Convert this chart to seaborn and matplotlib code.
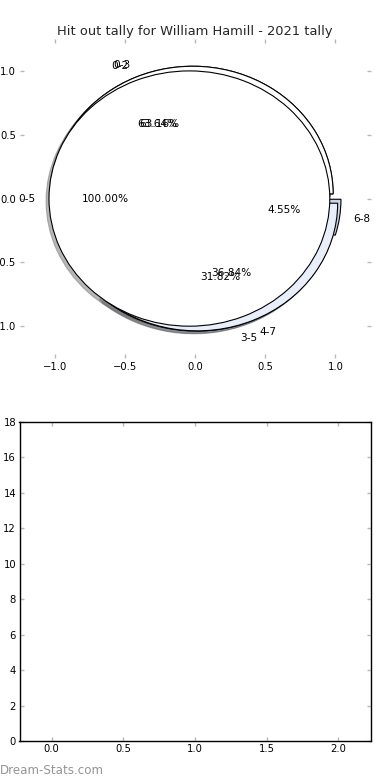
import matplotlib
matplotlib.use("Agg")
import matplotlib.pyplot as plt
import matplotlib.patches as mpatches
import seaborn as sns

# ---- data ----
title = "Hit out tally for William Hamill - 2021 tally"
pie_a_labels = ["0-2", "3-5", "6-8"]
pie_a_values = [14, 7, 1]
pie_b_labels = ["0-3", "4-7"]
pie_b_values = [12, 7]
pie_c_labels = ["0-5"]
pie_c_values = [19]
wedge_colors = ["#ffffff", "#e8eefa", "#cbd5ea"]
pie_ticks = [-1.0, -0.5, 0.0, 0.5, 1.0]
bar_xticks = [0.0, 0.5, 1.0, 1.5, 2.0]
bar_yticks = [0, 2, 4, 6, 8, 10, 12, 14, 16, 18]

sns.set_theme(style="white")
plt.rcParams["font.family"] = ["DejaVu Sans"]

fig, (ax1, ax2) = plt.subplots(2, 1, figsize=(3.9, 7.8), dpi=100)
plt.subplots_adjust(left=0.05, right=0.95, top=0.95, bottom=0.05, hspace=0.2)

wprops = dict(edgecolor="black", linewidth=0.8)
shadow = {"ox": -0.015, "oy": -0.015, "shade": 0.55}
for labels, values in [(pie_a_labels, pie_a_values),
                       (pie_b_labels, pie_b_values),
                       (pie_c_labels, pie_c_values)]:
    ax1.pie(values, labels=labels, autopct="%1.2f%%",
            explode=[0.04] * len(values), shadow=shadow,
            colors=wedge_colors[:len(values)], wedgeprops=wprops,
            textprops={"fontsize": 7.6, "color": "black"})

for p in ax1.patches:
    if isinstance(p, mpatches.Shadow):
        p.set_zorder(0.5)

ax1.set_aspect("auto")
ax1.set_frame_on(False)
ax1.set_xlim(-1.25, 1.25)
ax1.set_ylim(-1.25, 1.25)
ax1.set_xticks(pie_ticks)
ax1.set_yticks(pie_ticks)
ax1.set_title(title, fontsize=9.4, pad=3)

ax2.set_xlim(-0.225, 2.225)
ax2.set_ylim(0, 18)
ax2.set_xticks(bar_xticks)
ax2.set_yticks(bar_yticks)
for s in ax2.spines.values():
    s.set_visible(True)
    s.set_color("black")
    s.set_linewidth(1.0)

for ax in (ax1, ax2):
    ax.tick_params(direction="in", length=3, width=1, color="#b8b8b8",
                   labelcolor="black", labelsize=7.2, pad=2.5,
                   top=True, right=True, bottom=True, left=True)

fig.text(0.0, 0.0128, "Dream-Stats.com", color="#959595", fontsize=8.6,
         ha="left", va="center")

fig.savefig("out.png", dpi=100)
